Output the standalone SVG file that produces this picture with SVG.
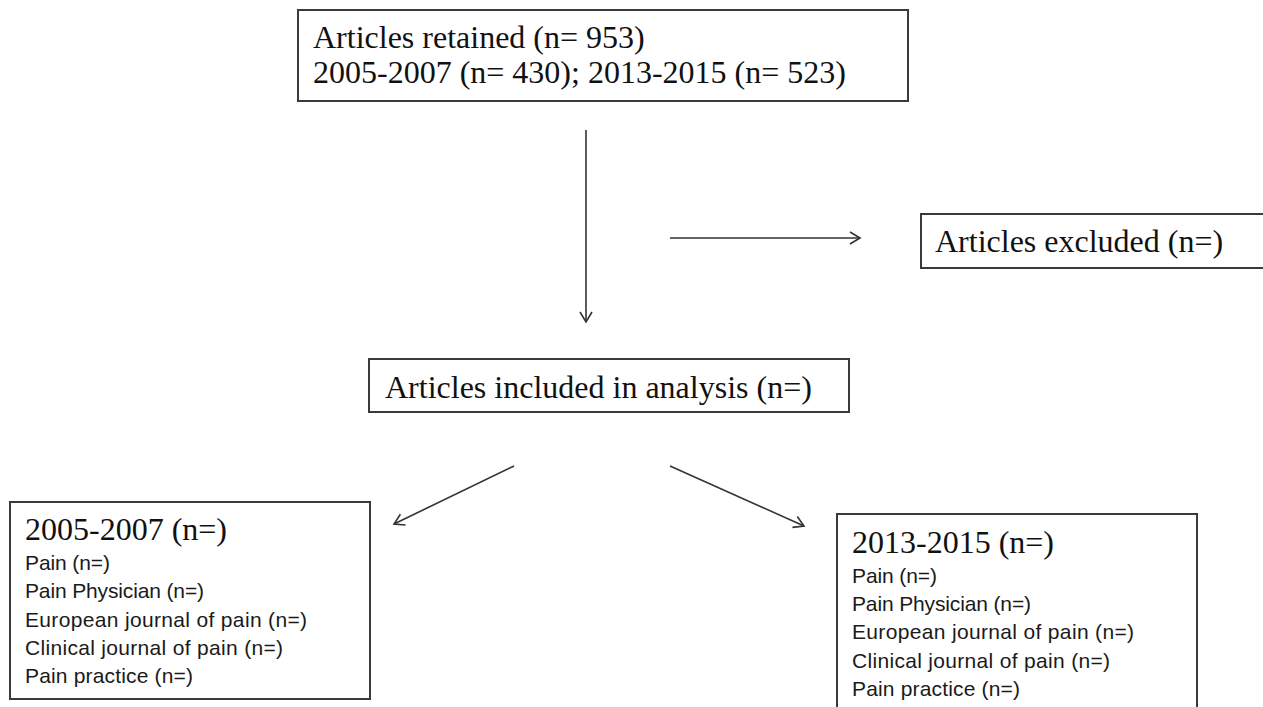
<svg xmlns="http://www.w3.org/2000/svg" width="1263" height="707" viewBox="0 0 1263 707">
<style>
.box{fill:#ffffff;stroke:#3a3a3a;stroke-width:2}
.serif{font-family:"Liberation Serif","Times New Roman",serif;font-size:32px;fill:#111}
.sans{font-family:"Liberation Sans",Arial,sans-serif;font-size:21px;fill:#1a1a1a}
.conn{stroke:#333;stroke-width:1.6;fill:none;marker-end:url(#arr)}
</style>
<defs>
<marker id="arr" markerUnits="userSpaceOnUse" markerWidth="14" markerHeight="16" refX="11" refY="7" orient="auto">
<path d="M1,1 L11,7 L1,13" fill="none" stroke="#333" stroke-width="1.6"/>
</marker>
</defs>
<rect width="1263" height="707" fill="#ffffff"/>
<g id="retained">
<rect class="box" x="298" y="10" width="610" height="91"/>
<text class="serif" x="313" y="48">Articles retained (n= 953)</text>
<text class="serif" x="313" y="83">2005-2007 (n= 430); 2013-2015 (n= 523)</text>
</g>
<g id="excluded">
<rect class="box" x="921" y="214" width="360" height="54"/>
<text class="serif" x="935" y="252">Articles excluded (n=)</text>
</g>
<g id="included">
<rect class="box" x="369" y="359" width="480" height="53"/>
<text class="serif" x="385" y="398">Articles included in analysis (n=)</text>
</g>
<g id="period1">
<rect class="box" x="10" y="502" width="360" height="197"/>
<text class="serif" x="25" y="540">2005-2007 (n=)</text>
<text class="sans" x="25" y="570" textLength="85">Pain (n=)</text>
<text class="sans" x="25" y="598" textLength="179">Pain Physician (n=)</text>
<text class="sans" x="25" y="627" textLength="282">European journal of pain (n=)</text>
<text class="sans" x="25" y="655" textLength="258">Clinical journal of pain (n=)</text>
<text class="sans" x="25" y="683" textLength="168">Pain practice (n=)</text>
</g>
<g id="period2">
<rect class="box" x="837" y="514" width="360" height="210"/>
<text class="serif" x="852" y="553">2013-2015 (n=)</text>
<text class="sans" x="852" y="583" textLength="85">Pain (n=)</text>
<text class="sans" x="852" y="611" textLength="179">Pain Physician (n=)</text>
<text class="sans" x="852" y="639" textLength="282">European journal of pain (n=)</text>
<text class="sans" x="852" y="668" textLength="258">Clinical journal of pain (n=)</text>
<text class="sans" x="852" y="696" textLength="168">Pain practice (n=)</text>
</g>
<g id="connectors">
<line class="conn" x1="586" y1="130" x2="586" y2="322"/>
<line class="conn" x1="670" y1="238" x2="860" y2="238"/>
<line class="conn" x1="514" y1="466" x2="394" y2="524"/>
<line class="conn" x1="670" y1="466" x2="804" y2="526"/>
</g>
</svg>
